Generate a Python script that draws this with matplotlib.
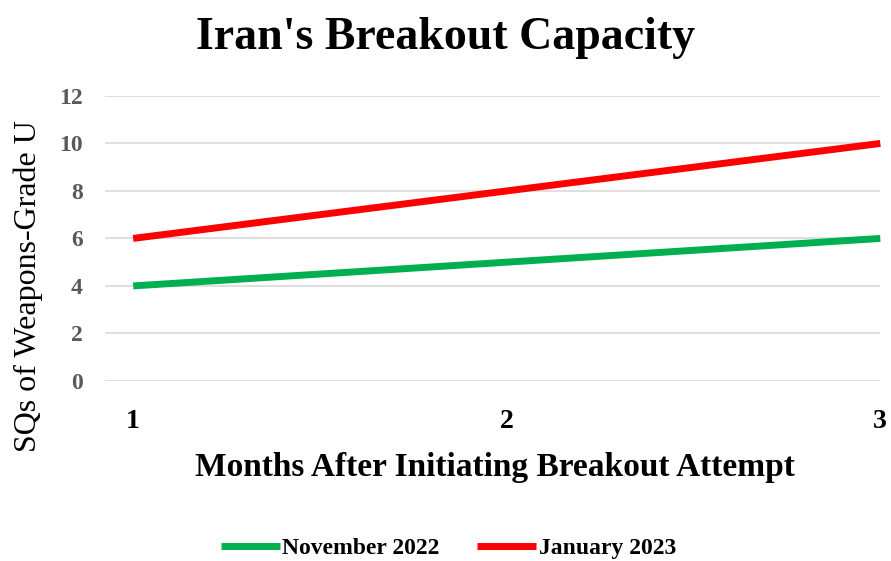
import matplotlib.pyplot as plt

plt.rcParams["font.family"] = ["Liberation Serif", "DejaVu Serif"]

months = [1, 2, 3]
nov_2022 = [4, 5, 6]
jan_2023 = [6, 8, 10]
y_ticks = [0, 2, 4, 6, 8, 10, 12]

fig = plt.figure(figsize=(8.91, 5.61), dpi=100)
ax = fig.add_axes([0.118, 0.321, 0.870, 0.508])

ax.plot(months, nov_2022, color="#00B050", lw=5, solid_capstyle="butt",
        label="November 2022", clip_on=False)
ax.plot(months, jan_2023, color="#FF0000", lw=5, solid_capstyle="butt",
        label="January 2023", clip_on=False)

ax.set_xlim(0.925, 3.0)
ax.set_ylim(0, 12)
ax.set_yticks(y_ticks)
ax.set_xticks(months)
ax.grid(axis="y", color="#d9d9d9", lw=1.2)
ax.set_axisbelow(True)
for s in ax.spines.values():
    s.set_visible(False)
ax.tick_params(length=0)
ax.tick_params(axis="y", labelsize=17, labelcolor="#595959", pad=16)
ax.tick_params(axis="x", labelsize=20, pad=20)
for t in ax.get_yticklabels():
    t.set_fontweight("bold")
for t in ax.get_xticklabels():
    t.set_fontweight("bold")

# axis titles placed by hand to match the original layout
fig.text(0.555, 0.166, "Months After Initiating Breakout Attempt", fontsize=24,
         fontweight="bold", ha="center", va="center")
fig.text(0.032, 0.49, "SQs of Weapons-Grade U", rotation=90, fontsize=23,
         ha="center", va="center")
fig.text(0.5, 0.932, "Iran's Breakout Capacity", fontsize=33,
         fontweight="bold", ha="center", va="center")

fig.legend(loc="center", bbox_to_anchor=(0.503, 0.023), ncol=2, frameon=False,
           prop={"size": 17, "weight": "bold"}, handlelength=2.5,
           handletextpad=0.1, columnspacing=1.6)

fig.savefig("out.png", dpi=100)
